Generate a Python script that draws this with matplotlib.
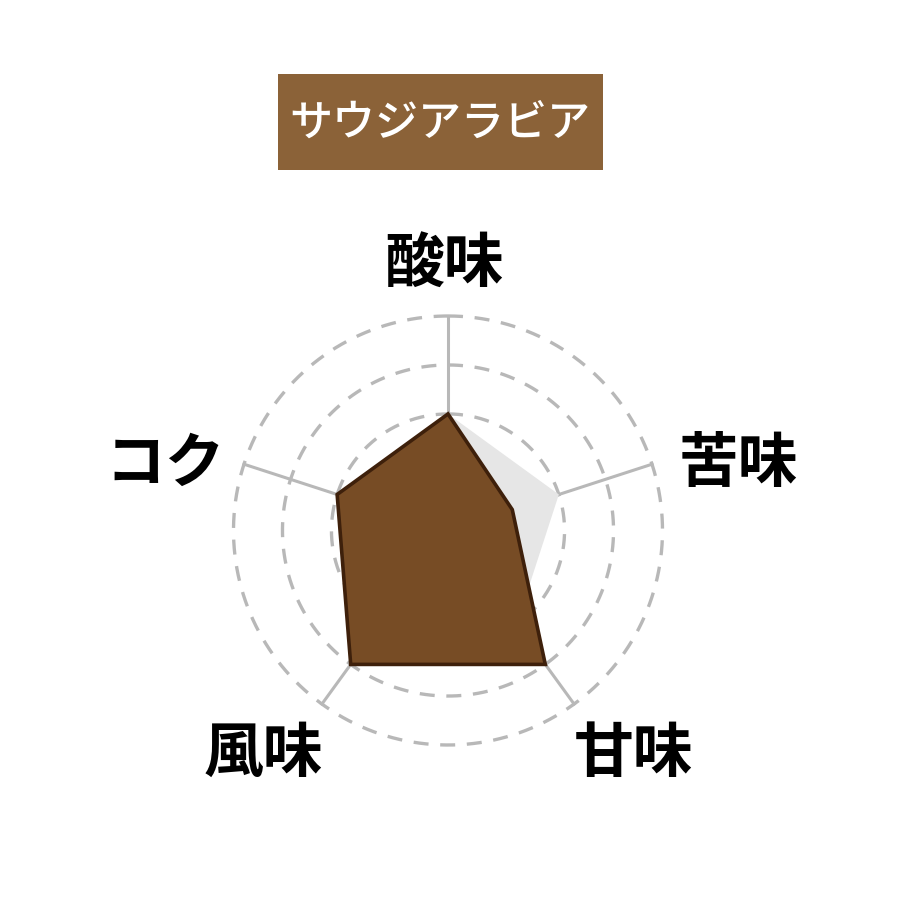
import numpy as np
import matplotlib
matplotlib.use("Agg")
import matplotlib.pyplot as plt
from matplotlib.patches import Rectangle

plt.rcParams['font.family'] = ['Noto Sans CJK JP', 'DejaVu Sans']

# data
title = "サウジアラビア"
labels = ["酸味", "苦味", "甘味", "風味", "コク"]
values = [3, 2, 4, 4, 3]          # brown profile
average = [3, 3, 3, 3, 3]         # grey reference profile
grid_levels = [3, 4, 5]
r_min, r_max = 0.62, 5

# label positions in figure pixels (x, y from top)
label_pos = [(444, 265), (738, 465), (633, 755), (263, 755), (165, 465)]

brown = "#774c25"
edge = "#3e200b"
box_color = "#8b6238"
grid_color = "#b8b8b8"

fig = plt.figure(figsize=(9, 9), dpi=100)
fig.patch.set_facecolor("white")

# title box
fig.patches.append(Rectangle((278 / 900, 1 - 170 / 900), 325 / 900, 96 / 900,
                             transform=fig.transFigure, facecolor=box_color,
                             edgecolor="none", zorder=0))
fig.text(440 / 900, 1 - 123 / 900, title, color="white", fontsize=31,
         ha="center", va="center", fontweight="medium")

cx, cy, R = 448 / 900, 1 - 530.5 / 900, 214.5 / 900
ax = fig.add_axes([cx - R, cy - R, 2 * R, 2 * R], projection="polar")
ax.set_theta_zero_location("N")
ax.set_theta_direction(-1)
ax.set_ylim(r_min, r_max)
ax.axis("off")

n = len(labels)
angles = np.linspace(0, 2 * np.pi, n, endpoint=False)
full = np.linspace(0, 2 * np.pi, 400)

# dashed rings
for lvl in grid_levels:
    ax.plot(full, np.full_like(full, lvl), color=grid_color, lw=2.4,
            ls=(0, (4.5, 3.5)), zorder=1, clip_on=False)

# spokes
for a in angles:
    ax.plot([a, a], [r_min, r_max], color=grid_color, lw=2.2, zorder=1,
            clip_on=False)

ang_c = np.append(angles, angles[0])
avg_c = np.append(average, average[0])
val_c = np.append(values, values[0])

ax.fill(ang_c, avg_c, color="#e6e6e6", zorder=2, lw=0)
ax.fill(ang_c, val_c, facecolor=brown, edgecolor=edge, lw=2.6, zorder=3,
        joinstyle="miter")

for lab, (px, py) in zip(labels, label_pos):
    fig.text(px / 900, 1 - py / 900, lab, fontsize=43, fontweight="bold",
             ha="center", va="center", color="black")

fig.savefig("out.png", dpi=100, facecolor="white")
